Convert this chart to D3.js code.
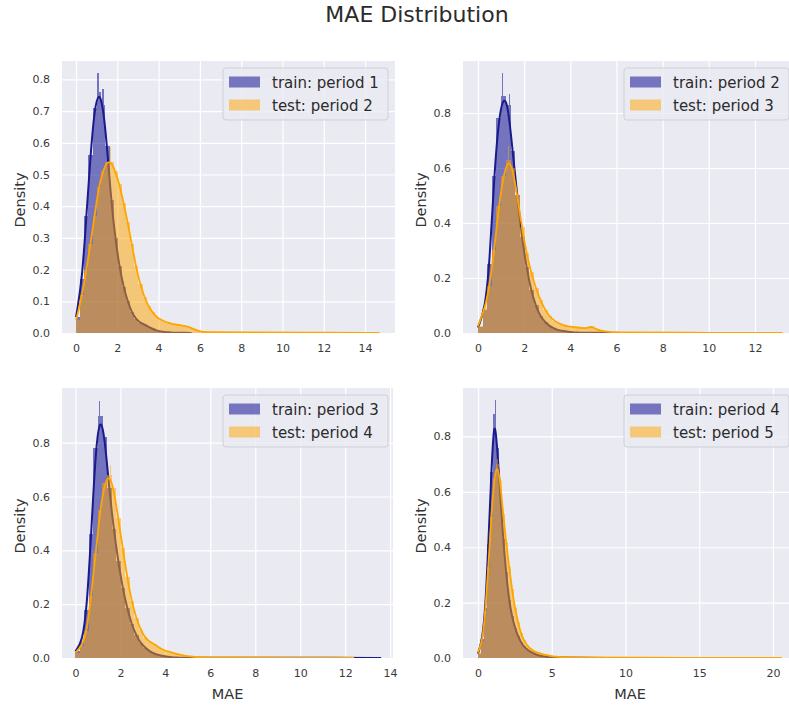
<!DOCTYPE html>
<html>
<head>
<meta charset="utf-8">
<script src="https://cdn.jsdelivr.net/npm/d3@7"></script>
<style>
    body { margin: 0; background: #fff; }
    svg { display: block; font-family: "DejaVu Sans", sans-serif; }
</style>
</head>
<body>
<div id="chart"></div>
<script>

var chartTitle = "MAE Distribution";
var trainLabels = ["train: period 1", "train: period 2", "train: period 3", "train: period 4"];
var testLabels = ["test: period 2", "test: period 3", "test: period 4", "test: period 5"];

// histogram bins start at 0, all panels use the same width
var binWidth = 0.2;

var xTicks = [
    [0, 2, 4, 6, 8, 10, 12, 14],
    [0, 2, 4, 6, 8, 10, 12],
    [0, 2, 4, 6, 8, 10, 12, 14],
    [0, 5, 10, 15, 20]
];
var yTicks = [
    [0, 0.1, 0.2, 0.3, 0.4, 0.5, 0.6, 0.7, 0.8],
    [0, 0.2, 0.4, 0.6, 0.8],
    [0, 0.2, 0.4, 0.6, 0.8],
    [0, 0.2, 0.4, 0.6, 0.8]
];

// density per bin
var p1Train = [0.05, 0.17, 0.37, 0.56, 0.71, 0.76, 0.72, 0.59, 0.42, 0.30, 0.21, 0.145, 0.10, 0.065, 0.045, 0.033, 0.027, 0.02, 0.013, 0.008, 0.005, 0.003, 0.002, 0.001, 0.001];
var p1Test = [0.04, 0.12, 0.20, 0.28, 0.37, 0.46, 0.51, 0.54, 0.54, 0.51, 0.47, 0.41, 0.35, 0.28, 0.21, 0.155, 0.115, 0.085, 0.065, 0.05, 0.042, 0.036, 0.032, 0.028, 0.026, 0.024, 0.022, 0.018, 0.012, 0.007, 0.004];
var p2Train = [0.02, 0.085, 0.25, 0.57, 0.78, 0.86, 0.83, 0.66, 0.50, 0.35, 0.24, 0.155, 0.10, 0.06, 0.04, 0.025, 0.016, 0.01, 0.007, 0.005, 0.003, 0.002, 0.001, 0.001, 0.001];
var p2Test = [0.025, 0.09, 0.17, 0.30, 0.46, 0.57, 0.63, 0.60, 0.50, 0.385, 0.29, 0.22, 0.165, 0.12, 0.085, 0.06, 0.045, 0.035, 0.028, 0.024, 0.022, 0.02, 0.018, 0.017, 0.025, 0.014, 0.009, 0.006, 0.004, 0.003];
var p3Train = [0.025, 0.06, 0.18, 0.46, 0.78, 0.90, 0.82, 0.63, 0.48, 0.36, 0.26, 0.185, 0.125, 0.085, 0.055, 0.038, 0.025, 0.016, 0.011, 0.007, 0.005, 0.003, 0.002, 0.001, 0.001];
var p3Test = [0.02, 0.045, 0.10, 0.23, 0.39, 0.55, 0.65, 0.68, 0.63, 0.52, 0.41, 0.30, 0.21, 0.15, 0.105, 0.075, 0.06, 0.052, 0.04, 0.03, 0.025, 0.02, 0.015, 0.011, 0.008, 0.006, 0.004];
var p4Train = [0.015, 0.07, 0.18, 0.41, 0.67, 0.88, 0.76, 0.60, 0.43, 0.31, 0.21, 0.15, 0.11, 0.08, 0.058, 0.042, 0.032, 0.024, 0.018, 0.013, 0.01, 0.007, 0.005, 0.004, 0.003];
var p4Test = [0.02, 0.06, 0.17, 0.33, 0.51, 0.65, 0.70, 0.64, 0.52, 0.42, 0.33, 0.25, 0.18, 0.13, 0.09, 0.065, 0.048, 0.035, 0.028, 0.022, 0.018, 0.015, 0.012, 0.01, 0.008, 0.006, 0.005, 0.004];

// narrow single-bin spikes [x, density]
var p1TrainSpikes = [[1.05, 0.82], [1.3, 0.77]];
var p1TestSpikes = [[1.65, 0.587]];
var p2TrainSpikes = [[1.05, 0.944], [1.35, 0.87]];
var p2TestSpikes = [[1.31, 0.68]];
var p3TrainSpikes = [[1.05, 0.954]];
var p3TestSpikes = [[1.55, 0.717]];
var p4TrainSpikes = [[1.15, 0.93]];
var p4TestSpikes = [[1.3, 0.72]];

// long thin tails [x, density], last point closes the tail
var p1TrainTail = [[5.0, 0.001], [5.6, 0]];
var p1TestTail = [[6.2, 0.003], [8.5, 0.0015], [11, 0.001], [14.7, 0]];
var p2TrainTail = [[5.0, 0.001], [6.5, 0]];
var p2TestTail = [[6.0, 0.002], [9, 0.001], [13.2, 0]];
var p3TrainTail = [[5.0, 0.001], [12.4, 0.0008], [13.6, 0]];
var p3TestTail = [[5.4, 0.002], [8, 0.001], [12.4, 0]];
var p4TrainTail = [[5.0, 0.002], [7, 0.001], [8.9, 0]];
var p4TestTail = [[5.6, 0.002], [10, 0.001], [20.6, 0]];

var trainColor = "#00008b", trainLine = "#1a1a8c";
var testColor = "#ffa500", testLine = "#ffa500";

var panels = [
    { left: 62, right: 395, top: 61, bottom: 333, xDomain: [-0.68, 15.45], yDomain: [0, 0.858],
      train: p1Train, test: p1Test, trainSpikes: p1TrainSpikes, testSpikes: p1TestSpikes, trainTail: p1TrainTail, testTail: p1TestTail, xLabel: false },
    { left: 463, right: 797, top: 61, bottom: 333, xDomain: [-0.65, 13.82], yDomain: [0, 0.989],
      train: p2Train, test: p2Test, trainSpikes: p2TrainSpikes, testSpikes: p2TestSpikes, trainTail: p2TrainTail, testTail: p2TestTail, xLabel: false },
    { left: 62, right: 393, top: 388, bottom: 658, xDomain: [-0.6, 14.13], yDomain: [0, 1.003],
      train: p3Train, test: p3Test, trainSpikes: p3TrainSpikes, testSpikes: p3TestSpikes, trainTail: p3TrainTail, testTail: p3TestTail, xLabel: true },
    { left: 463, right: 797, top: 388, bottom: 658, xDomain: [-1.02, 21.63], yDomain: [0, 0.975],
      train: p4Train, test: p4Test, trainSpikes: p4TrainSpikes, testSpikes: p4TestSpikes, trainTail: p4TrainTail, testTail: p4TestTail, xLabel: true }
];

var svg = d3.select("#chart").append("svg")
    .attr("width", 789)
    .attr("height", 706);

svg.append("text")
    .attr("x", 417)
    .attr("y", 22)
    .attr("text-anchor", "middle")
    .attr("font-size", 22)
    .attr("fill", "#2b2b2b")
    .text(chartTitle);

panels.forEach(function(p, i) { drawPanel(p, i); });

function drawPanel(p, i) {
    var w = p.right - p.left,
        h = p.bottom - p.top;

    var g = svg.append("g")
        .attr("transform", "translate(" + p.left + "," + p.top + ")");

    var x = d3.scaleLinear().domain(p.xDomain).range([0, w]);
    var y = d3.scaleLinear().domain(p.yDomain).range([h, 0]);

    g.append("rect")
        .attr("width", w)
        .attr("height", h)
        .attr("fill", "#eaeaf2");

    g.append("clipPath")
        .attr("id", "clip" + i)
        .append("rect")
        .attr("width", w)
        .attr("height", h);

    // axes double as the white grid
    var xAxis = g.append("g")
        .attr("transform", "translate(0," + h + ")")
        .call(d3.axisBottom(x).tickValues(xTicks[i]).tickSize(-h).tickPadding(11).tickFormat(d3.format("d")));
    var yAxis = g.append("g")
        .call(d3.axisLeft(y).tickValues(yTicks[i]).tickSize(-w).tickPadding(12).tickFormat(d3.format(".1f")));

    [xAxis, yAxis].forEach(function(a) {
        a.select(".domain").remove();
        a.selectAll("line").attr("stroke", "#fff").attr("stroke-width", 1.2);
        a.selectAll("text")
            .attr("fill", "#3a3a3a")
            .attr("font-size", 11)
            .attr("font-family", "DejaVu Sans, sans-serif");
    });

    var plot = g.append("g").attr("clip-path", "url(#clip" + i + ")");

    drawSeries(plot, x, y, p.train, p.trainSpikes, p.trainTail, trainColor, trainLine, 2);
    drawSeries(plot, x, y, p.test, p.testSpikes, p.testTail, testColor, testLine, 1.8);

    // axis labels
    g.append("text")
        .attr("transform", "translate(-42," + (h / 2 + 3) + ") rotate(-90)")
        .attr("text-anchor", "middle")
        .attr("dy", "0.35em")
        .attr("font-size", 14.5)
        .attr("fill", "#333")
        .text("Density");

    if (p.xLabel) {
        g.append("text")
            .attr("x", w / 2)
            .attr("y", h + 41)
            .attr("text-anchor", "middle")
            .attr("font-size", 14.5)
            .attr("fill", "#333")
            .text("MAE");
    }

    // legend
    var leg = g.append("g").attr("transform", "translate(161,7)");
    leg.append("rect")
        .attr("width", 165)
        .attr("height", 52)
        .attr("rx", 3)
        .attr("fill", "#eaeaf2")
        .attr("fill-opacity", 0.8)
        .attr("stroke", "#cfcfd6")
        .attr("stroke-width", 1);

    var rows = [[trainLabels[i], trainColor], [testLabels[i], testColor]];
    rows.forEach(function(r, k) {
        var cy = 14 + k * 23;
        leg.append("rect")
            .attr("x", 6)
            .attr("y", cy - 5.5)
            .attr("width", 31)
            .attr("height", 11)
            .attr("fill", r[1])
            .attr("fill-opacity", 0.5);
        leg.append("text")
            .attr("x", 49)
            .attr("y", cy + 5.5)
            .attr("font-size", 15)
            .attr("fill", "#2b2b2b")
            .text(r[0]);
    });
}

function drawSeries(plot, x, y, hist, spikes, tail, color, lineColor, lineWidth) {
    var bins = hist.map(function(v, k) {
        return { x0: k * binWidth, x1: (k + 1) * binWidth, v: v };
    });
    for (var k = 0; k < tail.length - 1; k++) {
        bins.push({ x0: tail[k][0], x1: tail[k + 1][0], v: tail[k][1] });
    }
    spikes.forEach(function(s) {
        bins.push({ x0: s[0] - binWidth / 8, x1: s[0] + binWidth / 8, v: s[1] });
    });

    // one group opacity so touching bars do not seam
    var barGroup = plot.append("g")
        .attr("fill", color)
        .attr("opacity", 0.5)
        .attr("shape-rendering", "crispEdges");

    barGroup.selectAll("rect")
        .data(bins)
        .enter().append("rect")
        .attr("x", function(d) { return x(d.x0); })
        .attr("y", function(d) { return y(d.v); })
        .attr("width", function(d) { return x(d.x1) - x(d.x0) + 0.5; })
        .attr("height", function(d) { return y(0) - y(d.v); });

    var pts = hist.map(function(v, k) {
        return [k === 0 ? 0 : (k + 0.5) * binWidth, v];
    }).concat(tail);

    var line = d3.line()
        .x(function(d) { return x(d[0]); })
        .y(function(d) { return y(d[1]); })
        .curve(d3.curveBasis);

    plot.append("path")
        .datum(pts)
        .attr("fill", "none")
        .attr("stroke", lineColor)
        .attr("stroke-width", lineWidth)
        .attr("stroke-linejoin", "round")
        .attr("d", line);
}

</script>
</body>
</html>
